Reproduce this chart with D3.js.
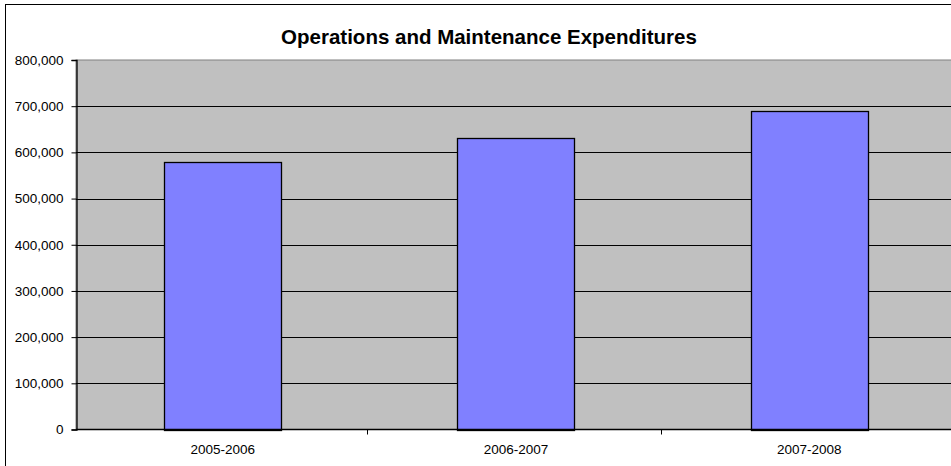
<!DOCTYPE html>
<html>
<head>
<meta charset="utf-8">
<script src="https://cdn.jsdelivr.net/npm/d3@7"></script>
<style>
  html, body { margin: 0; padding: 0; background: #fff; overflow: hidden; }
  svg { display: block; font-family: Arial, "Liberation Sans", sans-serif; }
</style>
</head>
<body>
<svg></svg>
<script>
const width = 951;
const height = 466;

// chart data
const title = 'Operations and Maintenance Expenditures';
const years = ['2005-2006', '2006-2007', '2007-2008'];
const expenditures = [580000, 632000, 689000];
const yTicks = [0, 100000, 200000, 300000, 400000, 500000, 600000, 700000, 800000];

const plot = { left: 76, top: 60, right: 956, bottom: 429.5 };

const svg = d3.select('svg')
	.attr('width', width)
	.attr('height', height);

// chart border (clipped at right and bottom, as in the original)
svg.append('rect')
	.attr('x', 5.5)
	.attr('y', 4.5)
	.attr('width', 1000)
	.attr('height', 1000)
	.attr('fill', '#fff')
	.attr('stroke', '#000')
	.attr('stroke-width', 1);

const x = d3.scaleBand()
	.domain(years)
	.range([plot.left, plot.right])
	.paddingInner(0.6)
	.paddingOuter(0.3);

const y = d3.scaleLinear()
	.domain([0, 800000])
	.range([plot.bottom, plot.top]);

// plot area
svg.append('rect')
	.attr('x', plot.left)
	.attr('y', plot.top)
	.attr('width', plot.right - plot.left)
	.attr('height', plot.bottom - plot.top)
	.attr('fill', '#c0c0c0')
	.attr('stroke', '#808080')
	.attr('stroke-width', 1);

// gridlines
svg.append('g')
	.selectAll('line')
	.data(yTicks.filter(d => d > 0 && d < 800000))
	.enter().append('line')
		.attr('x1', plot.left)
		.attr('x2', plot.right)
		.attr('y1', d => Math.round(y(d)) + 0.5)
		.attr('y2', d => Math.round(y(d)) + 0.5)
		.attr('stroke', '#000')
		.attr('stroke-width', 1);

// bars
svg.append('g')
	.selectAll('rect')
	.data(years)
	.enter().append('rect')
		.attr('x', d => Math.round(x(d)) + 0.5)
		.attr('y', (d, i) => Math.round(y(expenditures[i])) + 0.5)
		.attr('width', Math.round(x.bandwidth()))
		.attr('height', (d, i) => Math.round(y(0)) - Math.round(y(expenditures[i])))
		.attr('fill', '#8080ff')
		.attr('stroke', '#000')
		.attr('stroke-width', 1.3);

// y axis
const yAxis = svg.append('g')
	.attr('transform', `translate(${plot.left + 0.5},0)`)
	.call(d3.axisLeft(y)
		.tickValues(yTicks)
		.tickSize(5)
		.tickPadding(8)
		.tickFormat(d3.format(',')));
yAxis.select('.domain').attr('stroke', '#000').attr('stroke-width', 1.3);
yAxis.selectAll('.tick line').attr('stroke', '#000');
yAxis.selectAll('.tick text')
	.attr('font-size', 13.5)
	.attr('font-family', 'Arial, "Liberation Sans", sans-serif')
	.attr('fill', '#000');

// x axis
svg.append('line')
	.attr('x1', plot.left)
	.attr('x2', plot.right)
	.attr('y1', plot.bottom)
	.attr('y2', plot.bottom)
	.attr('stroke', '#000')
	.attr('stroke-width', 1.5);

const boundaries = d3.range(years.length).map(i => plot.left + (i + 1) * (plot.right - plot.left) / years.length);
svg.append('g')
	.selectAll('line')
	.data(boundaries)
	.enter().append('line')
		.attr('x1', d => Math.round(d) - 1.5)
		.attr('x2', d => Math.round(d) - 1.5)
		.attr('y1', plot.bottom)
		.attr('y2', plot.bottom + 5)
		.attr('stroke', '#000');

svg.append('g')
	.selectAll('text')
	.data(years)
	.enter().append('text')
		.attr('x', d => x(d) + x.bandwidth() / 2)
		.attr('y', 454)
		.attr('text-anchor', 'middle')
		.attr('font-size', 13.5)
		.attr('fill', '#000')
		.text(d => d);

// title
svg.append('text')
	.attr('x', 489)
	.attr('y', 44)
	.attr('text-anchor', 'middle')
	.attr('font-size', 20.5)
	.attr('font-weight', 'bold')
	.attr('fill', '#000')
	.text(title);
</script>
</body>
</html>
